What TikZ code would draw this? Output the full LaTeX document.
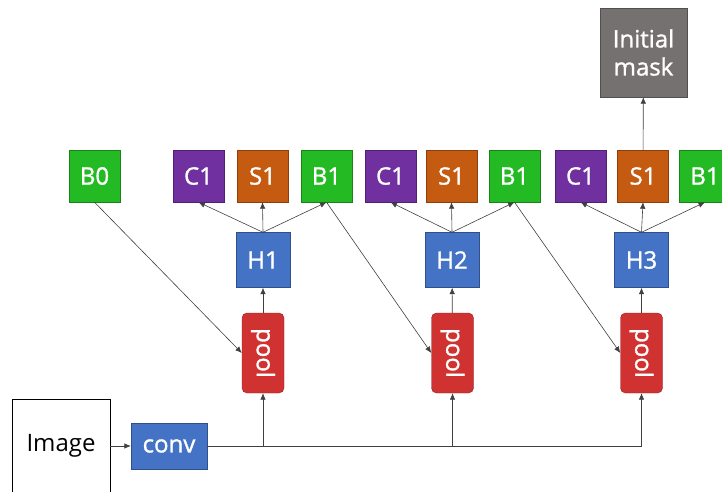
\documentclass[tikz,border=0pt]{standalone}
\usepackage{fontspec}
\usepackage{graphicx}
\setmainfont{Open Sans}
\newfontfamily\boxfont{Open Sans}[FakeBold=1.2]
\usetikzlibrary{arrows.meta}

\definecolor{bgreen}{RGB}{36,186,36}
\definecolor{bpurple}{RGB}{112,48,160}
\definecolor{borange}{RGB}{197,90,17}
\definecolor{bblue}{RGB}{68,114,196}
\definecolor{bred}{RGB}{208,50,50}
\definecolor{bgray}{RGB}{118,113,113}

\begin{document}
\begin{tikzpicture}[x=1pt,y=1pt,
  box/.style={draw=#1!70!black, fill=#1, text=white, inner sep=0pt,
    minimum width=51pt, minimum height=52pt,
    font=\boxfont\fontsize{24}{28}\selectfont},
  headbox/.style={box=bblue, minimum width=54pt, minimum height=55pt},
  poolbox/.style={box=bred, rounded corners=5pt, minimum width=42pt, minimum height=80pt},
  arr/.style={draw=black!75, line width=0.6pt, -{Latex[length=6.5pt,width=5.5pt]}}]
  \useasboundingbox (0,0) rectangle (722,491);

  \node[draw=black, line width=0.6pt, minimum width=98pt, minimum height=94pt,
    font=\fontsize{24}{28}\selectfont] (img) at (61,45) {Image};
  \node[box=bblue, minimum width=76pt, minimum height=46pt] (conv) at (169,45) {conv};

  \node[poolbox] (p1) at (263,138) {\rotatebox{-90}{pool}};
  \node[poolbox] (p2) at (452.5,138) {\rotatebox{-90}{pool}};
  \node[poolbox] (p3) at (641.5,138) {\rotatebox{-90}{pool}};

  \node[headbox] (h1) at (263,231) {H1};
  \node[headbox] (h2) at (452,231) {H2};
  \node[headbox] (h3) at (641.5,231) {H3};

  \node[box=bgreen] (b0) at (94.5,315) {B0};
  \node[box=bpurple] (c1) at (198.5,315) {C1};
  \node[box=borange] (s1) at (262.5,315) {S1};
  \node[box=bgreen] (b1) at (326.5,315) {B1};
  \node[box=bpurple] (c2) at (390.5,315) {C1};
  \node[box=borange] (s2) at (451.5,315) {S1};
  \node[box=bgreen] (b2) at (514.5,315) {B1};
  \node[box=bpurple] (c3) at (580.5,315) {C1};
  \node[box=borange] (s3) at (643,315) {S1};
  \node[box=bgreen] (b3) at (705,315) {B1};

  \node[box=bgray, minimum width=87pt, minimum height=89pt, align=center] (mask) at (643.5,438.5) {Initial\\mask};

  \draw[arr] (img) -- (conv);
  \draw[arr] (conv.east) -| (p3.south);
  \draw[arr] (p1.south |- conv.east) -- (p1.south);
  \draw[arr] (p2.south |- conv.east) -- (p2.south);

  \draw[arr] (p1) -- (h1);
  \draw[arr] (p2) -- (h2);
  \draw[arr] (p3) -- (h3);

  \draw[arr] (h1.north) -- (c1.south);
  \draw[arr] (h1.north) -- (s1.south);
  \draw[arr] (h1.north) -- (b1.south);
  \draw[arr] (h2.north) -- (c2.south);
  \draw[arr] (h2.north) -- (s2.south);
  \draw[arr] (h2.north) -- (b2.south);
  \draw[arr] (h3.north) -- (c3.south);
  \draw[arr] (h3.north) -- (s3.south);
  \draw[arr] (h3.north) -- (b3.south);

  \draw[arr] (b0.south) -- (p1.west);
  \draw[arr] (b1.south) -- (p2.west);
  \draw[arr] (b2.south) -- (p3.west);

  \draw[arr] (s3) -- (mask);
\end{tikzpicture}
\end{document}
